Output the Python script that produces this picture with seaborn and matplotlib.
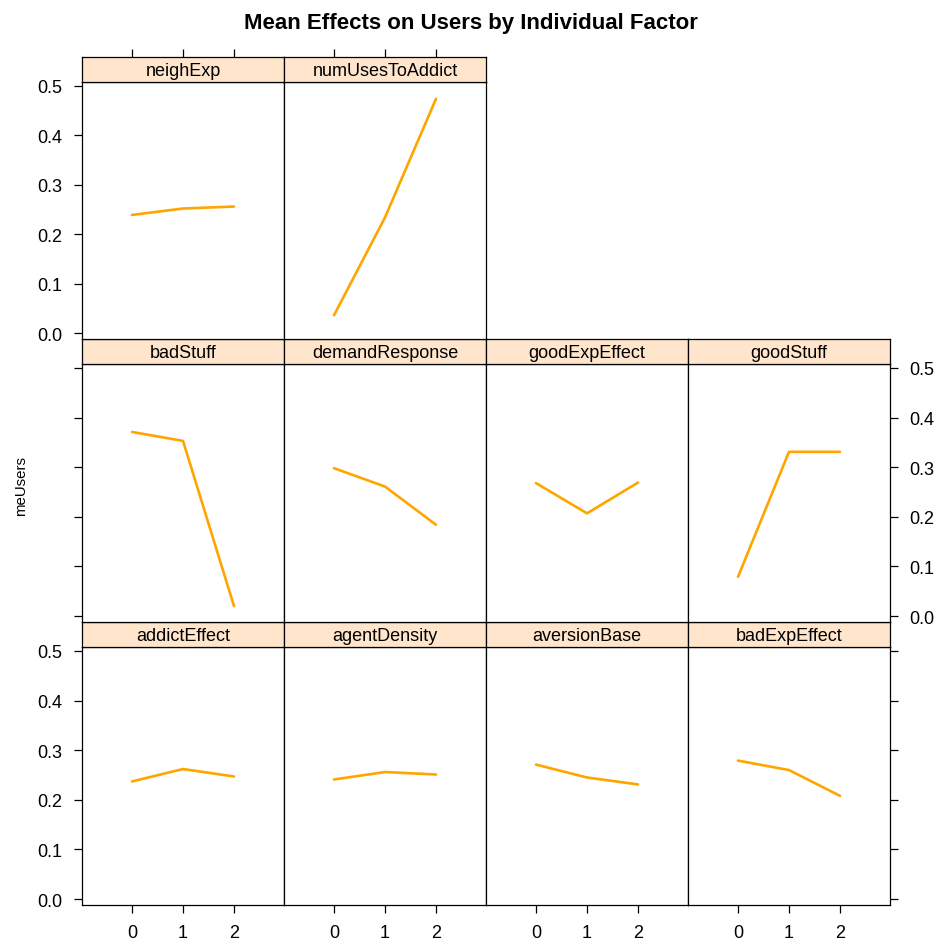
import numpy as np
import pandas as pd
import matplotlib
matplotlib.use('Agg')
import matplotlib.pyplot as plt
import seaborn as sns

# data (mean of meUsers at each factor level)
levels = [0, 1, 2]
factors = ['addictEffect', 'agentDensity', 'aversionBase', 'badExpEffect',
           'badStuff', 'demandResponse', 'goodExpEffect', 'goodStuff',
           'neighExp', 'numUsesToAddict']
addictEffect = [0.237, 0.262, 0.247]
agentDensity = [0.241, 0.256, 0.251]
aversionBase = [0.271, 0.245, 0.231]
badExpEffect = [0.279, 0.260, 0.208]
badStuff = [0.371, 0.353, 0.020]
demandResponse = [0.298, 0.261, 0.184]
goodExpEffect = [0.268, 0.207, 0.269]
goodStuff = [0.079, 0.331, 0.331]
neighExp = [0.239, 0.252, 0.256]
numUsesToAddict = [0.036, 0.234, 0.474]
yticks = [0.0, 0.1, 0.2, 0.3, 0.4, 0.5]

values = [addictEffect, agentDensity, aversionBase, badExpEffect, badStuff,
          demandResponse, goodExpEffect, goodStuff, neighExp, numUsesToAddict]
df = pd.DataFrame({
    'factor': np.repeat(factors, len(levels)),
    'level': levels * len(factors),
    'meUsers': np.concatenate(values),
})

sns.set_style('ticks')
plt.rcParams['font.family'] = ['Liberation Sans', 'DejaVu Sans']
plt.rcParams['text.color'] = 'black'
plt.rcParams['xtick.color'] = 'black'
plt.rcParams['ytick.color'] = 'black'
plt.rcParams['axes.labelcolor'] = 'black'

W, H = 940, 945
fig = plt.figure(figsize=(W / 100, H / 100), dpi=100)


def box(x0, y0, x1, y1):
    return [x0 / W, 1 - y1 / H, (x1 - x0) / W, (y1 - y0) / H]


col_x = [82, 284, 486, 688, 890]
# (strip top, strip bottom/panel top, panel bottom) for rows from the top
rows = [(58, 83, 340), (340, 365, 623), (623, 648, 906)]
xlim = (-0.98, 2.98)
ylim = (-0.012, 0.508)
strip_col = '#FFE5CC'
fs = 13

for i, name in enumerate(factors):
    r = 2 - i // 4
    c = i % 4
    st, pt, pb = rows[r]
    x0, x1 = col_x[c], col_x[c + 1]

    ax = fig.add_axes(box(x0, pt, x1, pb))
    sub = df[df['factor'] == name]
    sns.lineplot(data=sub, x='level', y='meUsers', ax=ax, color='orange', linewidth=1.9)
    ax.set_xlim(xlim)
    ax.set_ylim(ylim)
    ax.set_xlabel('')
    ax.set_ylabel('')
    for s in ax.spines.values():
        s.set_linewidth(0.9)
        s.set_color('black')
    ax.tick_params(length=6, width=0.9, pad=8, labelsize=fs, direction='out',
                   colors='black')

    # x axis: labels only along the bottom row
    if r == 2:
        ax.set_xticks(levels)
        ax.set_xticklabels([str(v) for v in levels])
    else:
        ax.set_xticks([])

    # y axis: alternating left/right like lattice
    ax.set_yticks(yticks)
    ax.yaxis.set_major_formatter(matplotlib.ticker.FormatStrFormatter('%.1f'))
    left = c == 0
    right = c == 3
    ax.tick_params(axis='y', left=left, right=right,
                   labelleft=left and r != 1, labelright=right and r == 1)

    # strip
    sax = fig.add_axes(box(x0, st, x1, pt))
    sax.set_facecolor(strip_col)
    sax.set_xlim(xlim)
    sax.set_yticks([])
    for s in sax.spines.values():
        s.set_linewidth(0.9)
        s.set_color('black')
    if r == 0:
        sax.set_xticks(levels)
        sax.tick_params(axis='x', top=True, bottom=False, labeltop=False,
                        labelbottom=False, length=6, width=0.9, colors='black')
    else:
        sax.set_xticks([])
    sax.text(0.5, 0.45, name, transform=sax.transAxes, ha='center', va='center',
             fontsize=fs, color='black')

fig.text(471 / W, 1 - 23 / H, 'Mean Effects on Users by Individual Factor',
         ha='center', va='center', fontsize=16, fontweight='bold', color='black')
fig.text(21 / W, 1 - 486 / H, 'meUsers', rotation=90, ha='center', va='center',
         fontsize=10.8, color='black')

fig.savefig('out.png', dpi=100, facecolor='white')
